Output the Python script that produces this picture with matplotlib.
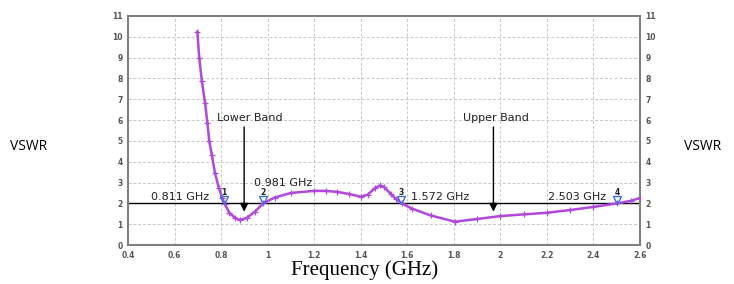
import matplotlib
matplotlib.use("Agg")
import matplotlib.pyplot as plt

# --- data ---
freq_ghz = [0.698, 0.706, 0.717, 0.731, 0.741, 0.749, 0.760, 0.774, 0.790, 0.805,
            0.817, 0.835, 0.860, 0.881, 0.910, 0.945, 0.981, 1.03, 1.10, 1.20,
            1.25, 1.30, 1.35, 1.40, 1.43, 1.46, 1.483, 1.50, 1.53, 1.55,
            1.576, 1.62, 1.70, 1.805, 1.90, 2.00, 2.10, 2.20, 2.30, 2.40,
            2.503, 2.56, 2.60]
vswr = [10.25, 9.0, 7.9, 6.84, 5.88, 5.0, 4.33, 3.45, 2.75, 2.25,
        1.95, 1.55, 1.3, 1.2, 1.3, 1.6, 2.0, 2.28, 2.5, 2.6,
        2.6, 2.55, 2.45, 2.32, 2.42, 2.72, 2.86, 2.78, 2.45, 2.22,
        2.0, 1.75, 1.42, 1.12, 1.25, 1.39, 1.47, 1.55, 1.68, 1.83,
        2.0, 2.12, 2.26]

marker_freqs = [0.811, 0.981, 1.572, 2.503]
marker_ids = ["1", "2", "3", "4"]
marker_texts = ["0.811 GHz", "0.981 GHz", "1.572 GHz", "2.503 GHz"]
text_pos = [(0.497, 2.32), (0.941, 2.97), (1.615, 2.32), (2.205, 2.32)]

band_names = ["Lower Band", "Upper Band"]
band_freqs = [0.899, 1.97]
band_text_x = [0.924, 1.98]
band_text_y = 6.1
band_start_y = 5.67
band_tip_y = 1.6
vswr_limit = 2.0

xticks = [0.4, 0.6, 0.8, 1.0, 1.2, 1.4, 1.6, 1.8, 2.0, 2.2, 2.4, 2.6]
xtick_labels = ["0.4", "0.6", "0.8", "1", "1.2", "1.4", "1.6", "1.8", "2", "2.2", "2.4", "2.6"]
yticks = list(range(0, 12))

fig = plt.figure(figsize=(7.34, 2.84), dpi=100)
ax = fig.add_axes([0.1744, 0.1373, 0.6976, 0.8064])

ax.plot(freq_ghz, vswr, color="#b048dc", linewidth=1.8, marker="+",
        markersize=4, markeredgewidth=0.9, zorder=3)
ax.axhline(vswr_limit, color="black", linewidth=1.0, zorder=2)

# markers (blue open triangles) with numbers and labels
for f, mid, txt, (tx, ty) in zip(marker_freqs, marker_ids, marker_texts, text_pos):
    ax.plot([f], [vswr_limit + 0.16], marker="v", markersize=5.5, markerfacecolor="none",
            markeredgecolor="#3a6fd8", markeredgewidth=1.0, linestyle="none", zorder=4)
    ax.text(f, 2.5, mid, fontsize=5.5, fontweight="bold", ha="center", va="center",
            color="#222222", zorder=5)
    ax.text(tx, ty, txt, fontsize=8, ha="left", va="center", color="#222222", zorder=5)

# band arrows
for name, f, tx in zip(band_names, band_freqs, band_text_x):
    ax.annotate("", xy=(f, band_tip_y), xytext=(f, band_start_y),
                arrowprops=dict(arrowstyle="-|>", color="black", lw=1.0,
                                mutation_scale=12, shrinkA=0, shrinkB=0))
    ax.text(tx, band_text_y, name, fontsize=8, ha="center", va="center", color="#222222")

ax.set_xlim(0.4, 2.6)
ax.set_ylim(0, 11)
ax.set_xticks(xticks)
ax.set_xticklabels(xtick_labels)
ax.set_yticks(yticks)
ax.grid(True, color="#c8c8c8", linestyle=(0, (3, 2)), linewidth=0.7)
ax.tick_params(axis="both", labelsize=5.5, colors="#555555", length=0, pad=4,
               labelright=True)
for lbl in ax.get_xticklabels() + ax.get_yticklabels():
    lbl.set_fontweight("bold")
for sp in ax.spines.values():
    sp.set_color("#808080")
    sp.set_linewidth(1.5)

fig.text(10 / 734, 1 - 147 / 284, "VSWR", fontsize=10, ha="left", va="center",
         family="Open Sans")
fig.text(684 / 734, 1 - 147 / 284, "VSWR", fontsize=10, ha="left", va="center",
         family="Open Sans")
fig.text(365 / 734, 1 - 270 / 284, "Frequency (GHz)", fontsize=15, ha="center",
         va="center", family="Liberation Serif")

fig.savefig("out.png", dpi=100)
